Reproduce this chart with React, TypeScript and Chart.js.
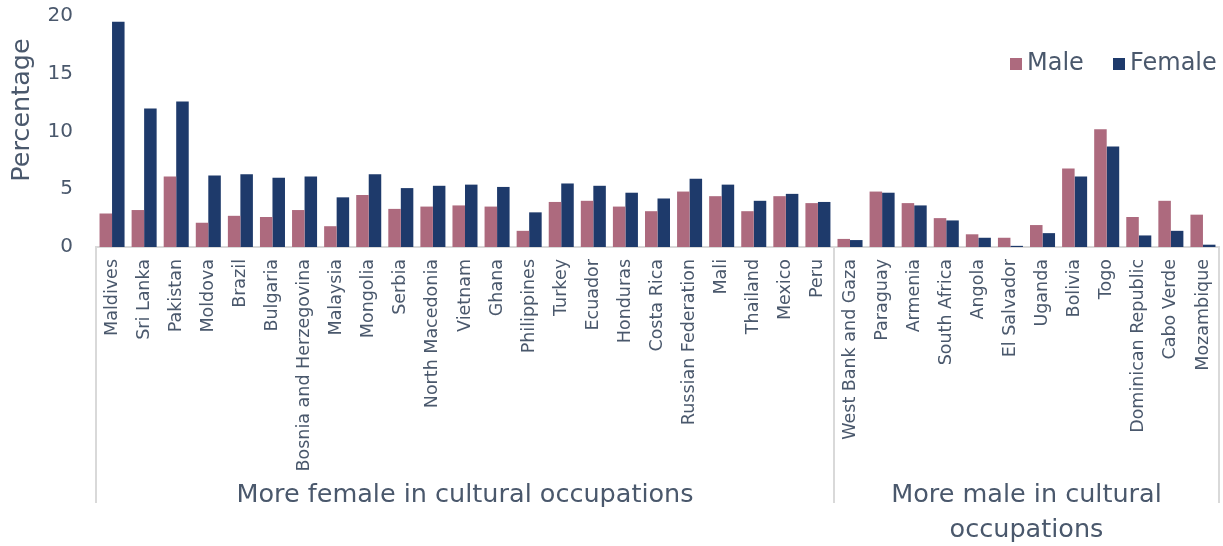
import React, { useEffect, useRef } from 'react';
import { Chart, registerables } from 'chart.js';

Chart.register(...registerables);

const categories = [
  'Maldives', 'Sri Lanka', 'Pakistan', 'Moldova', 'Brazil', 'Bulgaria', 'Bosnia and Herzegovina',
  'Malaysia', 'Mongolia', 'Serbia', 'North Macedonia', 'Vietnam', 'Ghana', 'Philippines', 'Turkey',
  'Ecuador', 'Honduras', 'Costa Rica', 'Russian Federation', 'Mali', 'Thailand', 'Mexico', 'Peru',
  'West Bank and Gaza', 'Paraguay', 'Armenia', 'South Africa', 'Angola', 'El Salvador', 'Uganda',
  'Bolivia', 'Togo', 'Dominican Republic', 'Cabo Verde', 'Mozambique',
];

const maleValues = [
  2.9, 3.2, 6.1, 2.1, 2.7, 2.6, 3.2, 1.8, 4.5, 3.3, 3.5, 3.6, 3.5, 1.4, 3.9, 4.0, 3.5, 3.1, 4.8, 4.4, 3.1, 4.4, 3.8,
  0.7, 4.8, 3.8, 2.5, 1.1, 0.8, 1.9, 6.8, 10.2, 2.6, 4.0, 2.8,
];

const femaleValues = [
  19.5, 12.0, 12.6, 6.2, 6.3, 6.0, 6.1, 4.3, 6.3, 5.1, 5.3, 5.4, 5.2, 3.0, 5.5, 5.3, 4.7, 4.2, 5.9, 5.4, 4.0, 4.6, 3.9,
  0.6, 4.7, 3.6, 2.3, 0.8, 0.1, 1.2, 6.1, 8.7, 1.0, 1.4, 0.2,
];

const seriesNames = ['Male', 'Female'];
const yTickValues = [0, 5, 10, 15, 20];
const groupLabels = [['More female in cultural occupations'], ['More male in cultural', 'occupations']];
const groupSizes = [23, 12];
const yTitle = 'Percentage';

const MALE_COLOR = '#ad6a7e';
const FEMALE_COLOR = '#1e3a6b';
const TEXT_COLOR = '#4a586c';
const LINE_COLOR = '#d9d9d9';
const FONT = "'DejaVu Sans', sans-serif";

const overlayPlugin = {
  id: 'overlay',
  afterDraw(chart: any) {
    const ctx = chart.ctx;
    const x = chart.scales.x;
    const area = chart.chartArea;
    const half = (x.getPixelForValue(1) - x.getPixelForValue(0)) / 2;
    ctx.save();
    // separators
    const bounds: number[] = [];
    let idx = 0;
    bounds.push(x.getPixelForValue(0) - half);
    for (const s of groupSizes) {
      idx += s;
      bounds.push(x.getPixelForValue(idx - 1) + half);
    }
    ctx.strokeStyle = LINE_COLOR;
    ctx.lineWidth = 2;
    for (const b of bounds) {
      ctx.beginPath();
      ctx.moveTo(Math.round(b), area.bottom);
      ctx.lineTo(Math.round(b), 503);
      ctx.stroke();
    }
    // group labels
    ctx.fillStyle = TEXT_COLOR;
    ctx.font = `25.5px ${FONT}`;
    ctx.textAlign = 'center';
    ctx.textBaseline = 'middle';
    groupLabels.forEach((lines, i) => {
      const cx = (bounds[i] + bounds[i + 1]) / 2;
      lines.forEach((line, j) => {
        ctx.fillText(line, cx, 495 + j * 35);
      });
    });
    // y title
    ctx.save();
    ctx.translate(22, 110);
    ctx.rotate(-Math.PI / 2);
    ctx.font = `25.5px ${FONT}`;
    ctx.fillText(yTitle, 0, 0);
    ctx.restore();
    // legend
    const colors = [MALE_COLOR, FEMALE_COLOR];
    const legendX = [1010, 1113];
    ctx.textAlign = 'left';
    ctx.font = `24px ${FONT}`;
    seriesNames.forEach((name, i) => {
      ctx.fillStyle = colors[i];
      ctx.fillRect(legendX[i], 58, 12, 12);
      ctx.fillStyle = TEXT_COLOR;
      ctx.fillText(name, legendX[i] + 17, 64);
    });
    ctx.restore();
  },
};

export default function App() {
  const canvasRef = useRef<HTMLCanvasElement | null>(null);

  useEffect(() => {
    if (!canvasRef.current) return;
    const chart = new Chart(canvasRef.current, {
      type: 'bar',
      data: {
        labels: categories,
        datasets: [
          {
            label: seriesNames[0],
            data: maleValues,
            backgroundColor: MALE_COLOR,
            categoryPercentage: 0.78,
            barPercentage: 1.0,
          },
          {
            label: seriesNames[1],
            data: femaleValues,
            backgroundColor: FEMALE_COLOR,
            categoryPercentage: 0.78,
            barPercentage: 1.0,
          },
        ],
      },
      options: {
        animation: false,
        responsive: false,
        maintainAspectRatio: false,
        layout: { padding: { top: 16, right: 4, left: 0, bottom: 0 } },
        plugins: {
          legend: { display: false },
          tooltip: { enabled: false },
        },
        scales: {
          x: {
            grid: { display: false, drawTicks: false },
            border: { display: true, color: LINE_COLOR, width: 2 },
            ticks: {
              autoSkip: false,
              maxRotation: 90,
              minRotation: 90,
              padding: 12,
              color: TEXT_COLOR,
              font: { family: FONT, size: 17.5 },
            },
            afterFit: (s: any) => {
              s.height = 299;
              s.paddingTop = 0;
              s.paddingBottom = 0;
              s.paddingLeft = 0;
              s.paddingRight = 0;
            },
          },
          y: {
            min: 0,
            max: 20,
            afterBuildTicks: (s: any) => {
              s.ticks = yTickValues.map((v) => ({ value: v }));
            },
            grid: { display: false, drawTicks: false },
            border: { display: false },
            ticks: {
              padding: 23,
              color: TEXT_COLOR,
              font: { family: FONT, size: 20 },
            },
            afterFit: (s: any) => {
              s.width = 96;
              s.paddingTop = 0;
              s.paddingBottom = 0;
              s.paddingLeft = 0;
              s.paddingRight = 0;
            },
          },
        },
      },
      plugins: [overlayPlugin],
    });
    return () => chart.destroy();
  }, []);

  return (
    <div style={{ position: 'fixed', left: 0, top: 0, width: 1223, height: 546, background: '#fff' }}>
      <canvas ref={canvasRef} width={1223} height={546} style={{ width: 1223, height: 546 }} />
    </div>
  );
}
